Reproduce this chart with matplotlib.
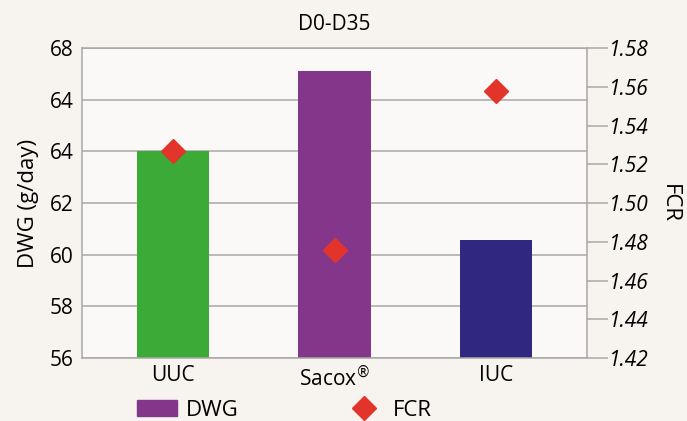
import matplotlib.pyplot as plt
from matplotlib.patches import Patch

plt.rcParams['font.family'] = ['Open Sans', 'DejaVu Sans']

# values
groups = ['UUC', 'Sacox$^{®}$', 'IUC']
dwg = [64.0, 67.1, 60.55]
fcr = [1.527, 1.476, 1.558]
bar_colors = ['#3caa36', '#84368b', '#2f2780']

dwg_ticks = [56, 58, 60, 62, 64, 66, 68]
dwg_labels = ['56', '58', '60', '62', '64', '64', '68']   # the original repeats "64"
fcr_ticks = [1.42, 1.44, 1.46, 1.48, 1.50, 1.52, 1.54, 1.56, 1.58]

bg = '#f7f3ef'
grid_col = '#a9a7a6'

fig = plt.figure(figsize=(6.87, 4.21), dpi=100, facecolor=bg)
ax = fig.add_axes([0.1194, 0.1496, 0.7350, 0.7364])
ax.set_facecolor('#fbf9f7')

x = list(range(len(groups)))
ax.bar(x, dwg, width=0.445, color=bar_colors, zorder=2)
ax.set_xlim(-0.56, 2.56)
ax.set_ylim(56, 68)
ax.set_yticks(dwg_ticks)
ax.set_yticklabels(dwg_labels, fontsize=15)
ax.set_xticks(x)
ax.set_xticklabels(groups, fontsize=15)
ax.tick_params(axis='x', length=0, pad=5)
ax.tick_params(axis='y', length=0, pad=6)
ax.yaxis.grid(True, color=grid_col, lw=1.1, zorder=0)
ax.set_axisbelow(True)
ax.set_ylabel('DWG (g/day)', fontsize=16, labelpad=8)
ax.set_title('D0-D35', fontsize=15, pad=13)
for s in ax.spines.values():
    s.set_color(grid_col)
    s.set_linewidth(1.1)
ax.spines['right'].set_visible(False)

ax2 = ax.twinx()
ax2.plot(x, fcr, linestyle='none', marker='D', markersize=12.5, color='#e3342b', zorder=5)
ax2.set_ylim(1.42, 1.58)
ax2.set_yticks(fcr_ticks)
ax2.set_yticklabels(['%.2f' % t for t in fcr_ticks], fontsize=15, style='italic')
ax2.tick_params(axis='y', length=15, width=1.1, color=grid_col, pad=1)
ax2.set_ylabel('FCR', fontsize=16, rotation=270, labelpad=22)
for s in ax2.spines.values():
    s.set_visible(False)
ax2.spines['right'].set_visible(True)
ax2.spines['right'].set_color(grid_col)
ax2.spines['right'].set_linewidth(1.1)

handles = [Patch(color='#84368b', label='DWG'),
           plt.Line2D([], [], linestyle='none', marker='D', markersize=12.5,
                      color='#e3342b', label='FCR')]
fig.legend(handles=handles, loc='center left', bbox_to_anchor=(0.171, 0.025),
           ncol=2, frameon=False, fontsize=16, handlelength=1.8, handleheight=0.75,
           handletextpad=0.4, columnspacing=4.7)

fig.savefig('out.png', dpi=100, facecolor=bg)
